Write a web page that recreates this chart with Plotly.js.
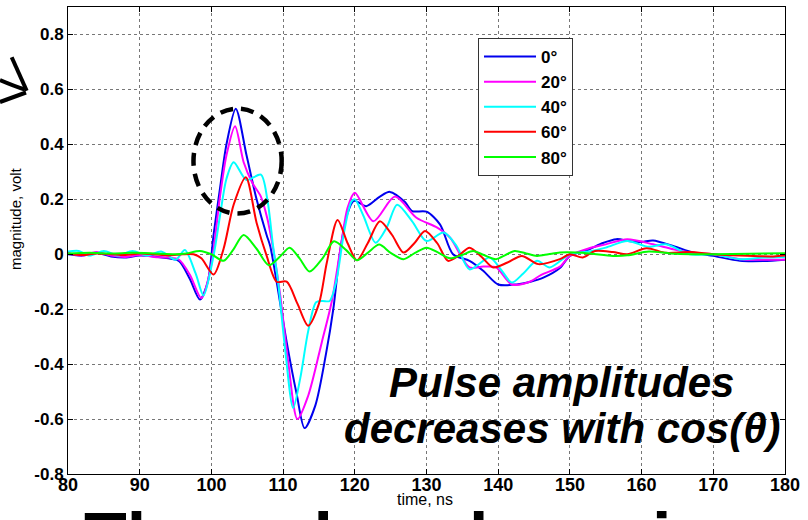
<!DOCTYPE html>
<html>
<head>
<meta charset="utf-8">
<script src="https://cdn.plot.ly/plotly-3.0.1.min.js"></script>
<style>
  html, body { margin: 0; padding: 0; background: #fff; }
  #chart { width: 808px; height: 520px; }
</style>
</head>
<body>
<div id="chart"></div>
<script>
// ---- data ----
const seriesNames = ["0°", "20°", "40°", "60°", "80°"];
const seriesColors = ["#0000ee", "#ff00ff", "#00ffff", "#ff0000", "#00ff00"];

const t0 = [80, 82, 84, 86, 88, 90, 92, 94, 95.5, 97, 98.4, 99.5, 100.3, 101.2, 102.1, 103.4, 104.9, 106.3, 107.7, 108.2, 109.1, 110.5, 111.9, 113.0, 114.5, 116.0, 117.0, 118.0, 119.0, 119.9, 121.6, 123.5, 124.9, 127, 128, 130, 131.9, 133.7, 136, 137.9, 140, 142.6, 144.5, 146.3, 148.6, 150, 152.7, 154.5, 156.5, 158.4, 160, 161.6, 164.4, 167.2, 170, 173.7, 177, 180];
const v0 = [0, -0.005, 0.005, -0.008, -0.012, -0.005, -0.008, -0.015, -0.025, -0.09, -0.165, -0.1, 0.07, 0.24, 0.4, 0.53, 0.36, 0.2, 0.07, 0.03, -0.1, -0.32, -0.51, -0.633, -0.55, -0.36, -0.2, 0.02, 0.15, 0.195, 0.175, 0.21, 0.227, 0.19, 0.157, 0.155, 0.108, 0.0, -0.024, -0.06, -0.11, -0.11, -0.1, -0.085, -0.05, -0.006, 0.018, 0.04, 0.055, 0.047, 0.045, 0.05, 0.03, 0.006, -0.006, -0.024, -0.025, -0.02];

const t20 = [80, 82, 84, 86, 88, 90, 92, 94, 95.5, 97, 98.6, 99.9, 101.2, 102.1, 103.3, 104.5, 105.7, 106.9, 107.8, 108.7, 109.6, 110.7, 112.0, 113.5, 115.4, 116.8, 118, 119, 120, 122.6, 125.6, 128.6, 131.5, 133.3, 136, 137.9, 139.7, 141.9, 144.4, 146, 148.6, 150, 152.5, 155, 158, 161.6, 164.4, 167, 170, 173.7, 177, 180];
const v20 = [0.005, -0.005, 0.008, -0.005, -0.01, -0.003, -0.01, -0.012, -0.02, -0.075, -0.16, -0.05, 0.21, 0.36, 0.466, 0.335, 0.26, 0.21, 0.13, 0.006, -0.15, -0.39, -0.6, -0.515, -0.32, -0.17, 0.02, 0.17, 0.224, 0.12, 0.21, 0.133, 0.097, 0.06, -0.048, -0.045, -0.048, -0.11, -0.1, -0.075, -0.045, -0.006, 0.02, 0.036, 0.055, 0.036, 0.018, 0.005, 0, -0.018, -0.02, -0.02];

const t40 = [80, 81.5, 83, 85, 87, 89, 91, 93, 95, 96.3, 97.8, 98.9, 100.3, 101.2, 102.1, 103.1, 104.9, 106.9, 107.8, 108.6, 109.3, 110.3, 111.4, 112.4, 113.5, 114.6, 115.5, 116.5, 117.4, 118.5, 119.5, 120, 121.2, 122.9, 124.5, 125.9, 128, 130, 132.4, 134.2, 136, 138.8, 140.5, 141.9, 143.5, 145.4, 147.2, 150, 152.7, 155, 158, 161, 163.4, 166.7, 170, 173.7, 177, 180];
const v40 = [0.01, 0.012, -0.005, 0.012, -0.005, 0.012, -0.005, 0.01, -0.02, 0.015, -0.07, -0.15, -0.005, 0.14, 0.275, 0.335, 0.27, 0.29, 0.2, 0.03, -0.1, -0.35, -0.56, -0.45, -0.28, -0.175, -0.17, -0.17, -0.1, 0.08, 0.19, 0.2, 0.14, 0.042, 0.1, 0.18, 0.12, 0.048, 0.079, 0.03, -0.055, -0.012, -0.06, -0.103, -0.07, -0.024, -0.048, 0.0, 0.01, 0.024, 0.048, 0.027, 0.036, 0, 0, -0.018, -0.012, -0.01];

const t60 = [80, 82, 84, 86, 88, 90, 92, 94, 96, 97.5, 98.6, 100.3, 101.7, 103.1, 104.8, 106.3, 107.7, 109.1, 110.5, 112, 113.5, 115, 116.1, 117.6, 119, 120.3, 121.8, 123.5, 125.2, 126.8, 128.3, 129.8, 131.5, 133, 134.5, 136, 137.7, 139.3, 141.3, 143.3, 145.6, 148.6, 150, 151.8, 153.5, 156, 158, 160.7, 163.4, 166.7, 170, 173.7, 178.4, 180];
const v60 = [0.003, -0.003, 0.003, 0, -0.003, 0.003, 0, -0.005, 0.0, 0, -0.015, -0.074, 0.02, 0.18, 0.28, 0.115, -0.005, -0.1, -0.1, -0.18, -0.26, -0.18, -0.03, 0.125, 0.04, -0.022, 0.04, 0.12, 0.07, 0.006, 0.04, 0.085, 0.04, -0.024, -0.005, 0.024, -0.01, -0.048, -0.03, -0.006, -0.036, -0.018, 0, -0.012, 0.012, 0.008, 0, 0.022, 0.005, 0.008, 0, -0.005, -0.008, -0.005];

const t80 = [80, 83, 86, 89, 92, 95, 96.5, 98.4, 100, 101.7, 103, 104.5, 106.3, 108, 109.5, 110.9, 112.3, 113.7, 115.5, 117.1, 118.8, 120.3, 121.8, 123.4, 125, 126.8, 128.4, 130, 131.7, 133.3, 135, 136.5, 138, 139.7, 141, 142.3, 143.9, 145.4, 147, 148.6, 151, 153, 156, 158, 161, 164, 167, 170, 175, 180];
const v80 = [0.003, 0.005, 0.003, 0.005, 0.003, 0.0, 0.003, 0.012, 0, -0.024, 0.015, 0.07, 0.02, -0.04, -0.01, 0.024, -0.015, -0.063, -0.015, 0.047, 0.015, -0.022, 0.005, 0.035, 0.005, -0.018, 0.005, 0.024, 0.005, -0.015, -0.002, 0.012, -0.003, -0.018, -0.003, 0.012, 0.003, -0.006, 0, 0.006, 0.006, 0.002, -0.006, -0.004, 0.01, 0.003, 0, 0, 0.002, 0.004];

const xTickVals = [80, 90, 100, 110, 120, 130, 140, 150, 160, 170, 180];
const xTickText = ["80", "90", "100", "110", "120", "130", "140", "150", "160", "170", "180"];
const yTickVals = [-0.8, -0.6, -0.4, -0.2, 0, 0.2, 0.4, 0.6, 0.8];
const yTickText = ["-0.8", "-0.6", "-0.4", "-0.2", "0", "0.2", "0.4", "0.6", "0.8"];

const xs = [t0, t20, t40, t60, t80];
const ys = [v0, v20, v40, v60, v80];

const traces = seriesNames.map((name, i) => ({
  type: "scatter",
  mode: "lines",
  name: name,
  x: xs[i],
  y: ys[i],
  line: { color: seriesColors[i], width: 2, shape: "spline", smoothing: 0.8 }
}));

// paper helpers (plot area: left 68, top 7, width 717, height 467)
const L = 68, T = 7, W = 717, H = 467;
const px = v => (v - L) / W;
const py = v => (T + H - v) / H;

const bigFont = { size: 42, weight: "bold", style: "italic", color: "#000" };

const layout = {
  width: 808, height: 520,
  margin: { l: L, r: 808 - L - W, t: T, b: 520 - T - H },
  paper_bgcolor: "#ffffff",
  plot_bgcolor: "#ffffff",
  font: { family: "Arial, Liberation Sans, sans-serif", color: "#000" },
  showlegend: true,
  legend: {
    x: px(478), y: py(38), xanchor: "left", yanchor: "top",
    bgcolor: "#ffffff", bordercolor: "#333333", borderwidth: 1,
    font: { size: 17, weight: "bold", color: "#000" },
    itemwidth: 52
  },
  xaxis: {
    range: [80, 180], tickvals: xTickVals, ticktext: xTickText,
    showgrid: true, gridcolor: "#777", griddash: "dot", gridwidth: 1,
    zeroline: false, showline: true, linecolor: "#000", linewidth: 1, mirror: "ticks",
    ticks: "inside", ticklen: 5, tickcolor: "#000",
    ticklabelstandoff: -6,
    tickfont: { family: "Arial, Liberation Sans", size: 18, weight: "bold", color: "#000" }
  },
  yaxis: {
    range: [-0.8, 0.9], tickvals: yTickVals, ticktext: yTickText,
    showgrid: true, gridcolor: "#777", griddash: "dot", gridwidth: 1,
    zeroline: false, showline: true, linecolor: "#000", linewidth: 1, mirror: "ticks",
    ticks: "inside", ticklen: 5, tickcolor: "#000",
    tickfont: { family: "Arial, Liberation Sans", size: 17, weight: "bold", color: "#000" }
  },
  shapes: [
    { type: "circle", xref: "x", yref: "y", x0: 97.5, x1: 109.8, y0: 0.148, y1: 0.53,
      line: { color: "#000", width: 4.5, dash: "13px,8px" } },
    { type: "path", xref: "paper", yref: "paper",
      path: `M ${px(11.7)},${py(57.3)} L ${px(26.7)},${py(90.7)}`,
      line: { color: "#000", width: 4 } },
    { type: "path", xref: "paper", yref: "paper",
      path: `M ${px(0)},${py(80)} Q ${px(14)},${py(86)} ${px(25)},${py(89.5)}`,
      line: { color: "#000", width: 4 } },
    { type: "path", xref: "paper", yref: "paper",
      path: `M ${px(0)},${py(102)} L ${px(26)},${py(92.5)}`,
      line: { color: "#000", width: 4 } }
  ],
  annotations: [
    { text: "time, ns", xref: "paper", yref: "paper", x: px(425), y: py(499),
      xanchor: "center", yanchor: "middle",
      showarrow: false, font: { size: 16 } },
    { text: "magnitude, volt", xref: "paper", yref: "paper", x: px(15), y: py(219),
      xanchor: "center", yanchor: "middle",
      textangle: -90, showarrow: false, font: { size: 15 } },
    { text: "Pulse amplitudes", xref: "paper", yref: "paper", x: px(561), y: py(382),
      xanchor: "center", yanchor: "middle", showarrow: false, font: bigFont },
    { text: "decreases with cos(θ)", xref: "paper", yref: "paper", x: px(562), y: py(429),
      xanchor: "center", yanchor: "middle", showarrow: false, font: bigFont },
    { text: "The pulse shape is unchanged with angle", xref: "paper", yref: "paper",
      x: px(82), y: py(497), xanchor: "left", yanchor: "top", showarrow: false,
      font: { size: 70, weight: "bold", color: "#000" } }
  ]
};

Plotly.newPlot("chart", traces, layout, { displayModeBar: false, staticPlot: true });
</script>
</body>
</html>
